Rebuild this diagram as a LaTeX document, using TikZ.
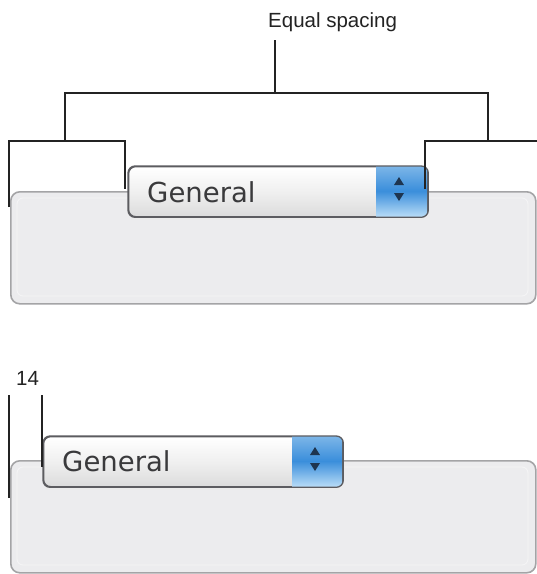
\documentclass[tikz,border=0pt]{standalone}
\usepackage{fontspec}
\setmainfont{Liberation Sans}
\newfontfamily\uifont{DejaVu Sans}
\definecolor{linec}{HTML}{232323}
\definecolor{panelfill}{HTML}{ECECEE}
\definecolor{paneledge}{HTML}{A4A4A6}
\definecolor{popedge}{HTML}{5C5C60}
\definecolor{bluetop}{HTML}{7DB6E8}
\definecolor{bluemid}{HTML}{3A8EDB}
\definecolor{bluebot}{HTML}{B5DAF6}
\definecolor{arrowc}{HTML}{1E3550}
\definecolor{textc}{HTML}{3A3A3C}
\tikzset{
  guide/.style={draw=linec, line width=1.5pt},
  lbl/.style={font=\fontsize{20.5}{22}\selectfont, text=linec, inner sep=0pt, anchor=base west},
  panel/.style={draw=paneledge, fill=panelfill, line width=1.6pt, rounded corners=9pt, anchor=north west, inner sep=0pt},
  panelinner/.style={draw=white!45!panelfill, line width=0.8pt, rounded corners=6pt},
  popup/.style={draw=popedge, line width=1.3pt, rounded corners=7pt, top color=white, bottom color=white!86!black, middle color=white!94!black, anchor=north west, inner sep=0pt, minimum width=299pt, minimum height=50pt},
  poptext/.style={font=\uifont\fontsize{27.5}{30}\selectfont, text=textc, inner sep=0pt, anchor=base west},
  bluepart/.style={top color=bluetop, bottom color=bluebot, middle color=bluemid},
  tri/.style={fill=arrowc}
}
\begin{document}
\begin{tikzpicture}[x=1pt,y=-1pt]
\useasboundingbox (0,0) rectangle (537,574);
\fill[white] (0,0) rectangle (537,574);

% ---------- top example ----------
\node[panel, minimum width=525pt, minimum height=112pt] (panelA) at (10,191) {};
\draw[panelinner] (17,198) rectangle (528,296);
\fill[black!8] (131,214) rectangle (424,220);
\node[popup] (popA) at (128,166) {};
\begin{scope}
  \clip[rounded corners=7pt] (popA.north west) rectangle (popA.south east);
  \fill[bluepart] (376,166) rectangle (427,216);
\end{scope}
\draw[popedge, line width=1.3pt, rounded corners=7pt] (popA.north west) rectangle (popA.south east);
\fill[tri] (399,177) -- (394,185) -- (404,185) -- cycle;
\fill[tri] (399,201) -- (394,193) -- (404,193) -- cycle;
\node[poptext] (genA) at (147,202.5) {General};

% labels and guides
\node[lbl] (eq) at (268,27) {Equal spacing};
\coordinate (stemtop) at (275,40);
\coordinate (stembot) at (275,93);
\coordinate (barL) at (65,93);
\coordinate (barR) at (488,93);
\coordinate (lbL) at (65,141);
\coordinate (rbL) at (488,141);
\draw[guide] (stemtop) -- (stembot);
\draw[guide] (barL |- lbL) -- (barL) -- (barR) -- (rbL);
\coordinate (la) at (9,207);
\coordinate (lb) at (9,141);
\coordinate (lc) at (125,141);
\coordinate (ld) at (125,189);
\draw[guide] (la) -- (lb) -- (lc) -- (ld);
\coordinate (ra) at (425,189);
\coordinate (rb) at (425,141);
\coordinate (rc) at (537,141);
\draw[guide] (ra) -- (rb) -- (rc);

% ---------- bottom example ----------
\node[panel, minimum width=525pt, minimum height=112pt] (panelB) at (10,460) {};
\draw[panelinner] (17,467) rectangle (528,565);
\fill[black!8] (46,484) rectangle (339,490);
\node[popup] (popB) at (43,436) {};
\begin{scope}
  \clip[rounded corners=7pt] (popB.north west) rectangle (popB.south east);
  \fill[bluepart] (292,436) rectangle (342,486);
\end{scope}
\draw[popedge, line width=1.3pt, rounded corners=7pt] (popB.north west) rectangle (popB.south east);
\fill[tri] (315,447) -- (310,455) -- (320,455) -- cycle;
\fill[tri] (315,471) -- (310,463) -- (320,463) -- cycle;
\node[poptext] (genB) at (62,471.5) {General};

\node[lbl] (fourteen) at (16,385) {14};
\coordinate (ba) at (9,395);
\coordinate (bb) at (9,498);
\coordinate (bc) at (42,395);
\coordinate (bd) at (42,467);
\draw[guide] (ba) -- (bb);
\draw[guide] (bc) -- (bd);
\end{tikzpicture}
\end{document}
